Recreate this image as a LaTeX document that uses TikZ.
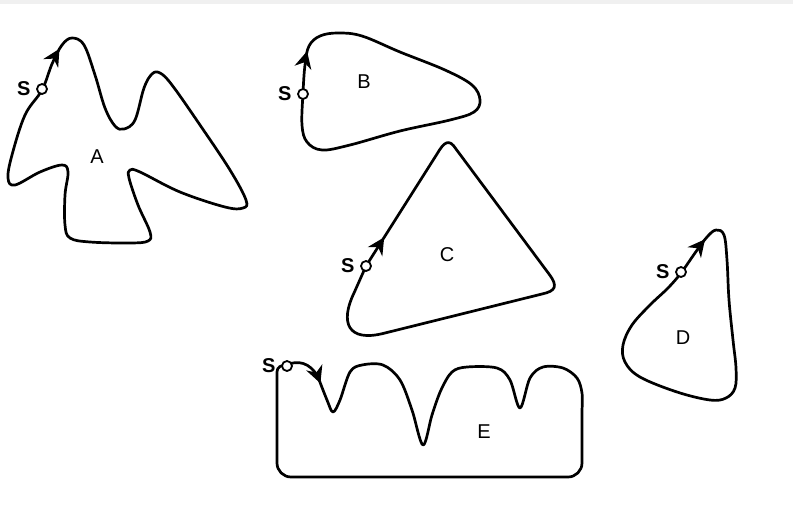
\documentclass[tikz,border=0pt]{standalone}
\usepackage{fontspec}
\setmainfont{Liberation Sans}
\usetikzlibrary{arrows.meta,decorations.markings,positioning}
\tikzset{
  curve/.style={line width=2.7pt, line join=round,
    postaction={decorate},
    decoration={markings, mark=at position #1 with {\arrow{Stealth[length=17pt,width=17pt,inset=5.5pt]}}}},
  startpt/.style={circle, draw, fill=white, line width=1.8pt, inner sep=0pt, minimum size=10pt},
  slabel/.style={font=\fontsize{20}{22}\selectfont\bfseries},
  rlabel/.style={font=\fontsize{20}{22}\selectfont}
}
\begin{document}
\begin{tikzpicture}[x=1pt,y=-1pt]
\useasboundingbox (0,0) rectangle (793,504);
\fill[white] (0,0) rectangle (793,504);
\fill[black!6] (0,0) rectangle (793,4);
% A
\draw[curve=17pt] plot[smooth cycle, tension=0.6] coordinates {
(42,90) (52,64) (62,45) (72,38) (84,45) (95,75) (105,108) (115,126) (124,129) (135,120)
(144,88) (152,74) (160,73) (172,85) (200,125) (230,170) (246,200) (243,208) (225,207)
(180,192) (140,172) (130,170) (129,178) (138,205) (150,232) (148,241) (130,243) (90,242)
(70,238) (65,225) (65,195) (68,172) (62,165) (40,172) (15,185) (8,178) (12,155) (25,115)};
\node[startpt] (sA) at (42,89) {};
\node[slabel, left=2pt of sA] (lsA) {S};
\node[rlabel] (A) at (97,157) {A};
% B
\draw[curve=14pt] plot[smooth cycle, tension=0.6] coordinates {
(303,93) (305,65) (309,46) (320,36) (338,33) (362,36) (400,52) (445,70) (472,85) (480,100)
(474,112) (450,120) (400,131) (350,145) (322,150) (307,142) (302,125)};
\node[startpt] (sB) at (303,94) {};
\node[slabel, left=2pt of sB] (lsB) {S};
\node[rlabel] (B) at (364,82) {B};
% C
\draw[curve=34pt] (366,266) -- (437,154) .. controls (444,142) and (449,138) .. (456,149)
  -- (549,274) .. controls (558,286) and (556,291) .. (542,294)
  -- (385,333) .. controls (347,343) and (340,322) .. (354,293) -- cycle;
\node[startpt] (sC) at (366,266) {};
\node[slabel, left=2pt of sC] (lsC) {S};
\node[rlabel] (C) at (447,255) {C};
% D
\draw[curve=17pt] plot[smooth cycle, tension=0.6] coordinates {
(681,273) (695,253) (707,237) (716,230) (724,235) (727,260) (729,300) (733,340) (736,368)
(735,388) (726,398) (710,400) (677,392) (640,377) (625,362) (623,345) (632,325) (650,305) (668,288)};
\node[startpt] (sD) at (681,272) {};
\node[slabel, left=2pt of sD] (lsD) {S};
\node[rlabel] (D) at (683,338) {D};
% E
\draw[curve=44pt, line join=round] (287,365) .. controls (297,360) and (310,362) .. (318,377)
  plot[smooth, tension=0.55] coordinates {(318,377) (327,400) (333,412) (340,400) (350,372) (362,365) (383,365)
  (400,380) (412,410) (423,445) (432,415) (441,390) (452,372) (467,367) (497,368) (510,380) (520,408) (530,378) (543,367) (563,368) (577,378) (582,393) (582,410)}
  [rounded corners=14pt] -- (582,477) -- (277,477) [sharp corners] -- (277,372) .. controls (277,367) and (281,365) .. (287,365);
\node[startpt] (sE) at (287,366) {};
\node[slabel, left=2pt of sE] (lsE) {S};
\node[rlabel] (E) at (484,432) {E};
\end{tikzpicture}
\end{document}
